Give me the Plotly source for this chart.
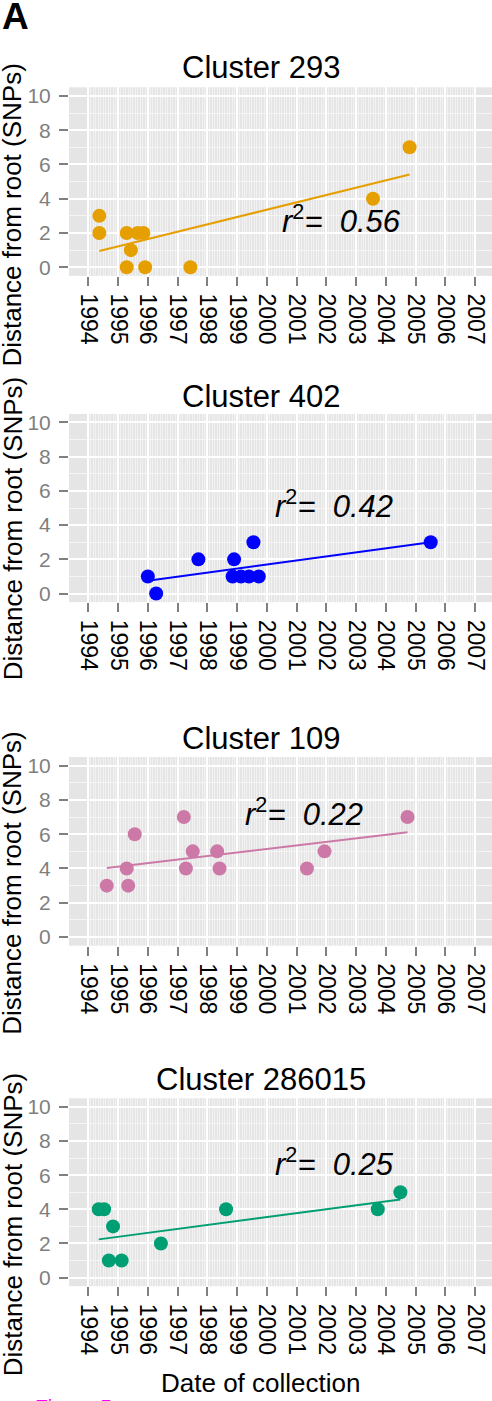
import numpy as np
import plotly.graph_objects as go

# ---------------- data ----------------
cluster_names = ["Cluster 293", "Cluster 402", "Cluster 109", "Cluster 286015"]
cluster_colors = ["#E69F00", "#0000FF", "#CC79A7", "#009E73"]
r2_values = ["0.56", "0.42", "0.22", "0.25"]

dates_293 = [1994.37, 1994.37, 1995.29, 1995.29, 1995.43, 1995.66, 1995.85, 1995.91, 1997.43, 2003.57, 2004.80]
snps_293 = [3, 2, 2, 0, 1, 2, 2, 0, 0, 4, 7]

dates_402 = [1996.00, 1996.28, 1997.70, 1998.90, 1998.85, 1999.13, 1999.40, 1999.73, 1999.55, 2005.51]
snps_402 = [1, 0, 2, 2, 1, 1, 1, 1, 3, 3]

dates_109 = [1994.62, 1995.29, 1995.34, 1995.56, 1997.21, 1997.28, 1997.51, 1998.33, 1998.41, 2001.35, 2001.94, 2004.73]
snps_109 = [3, 4, 3, 6, 7, 4, 5, 5, 4, 4, 5, 7]

dates_286015 = [1994.35, 1994.53, 1994.69, 1994.83, 1995.12, 1996.44, 1998.63, 2003.73, 2004.49]
snps_286015 = [4, 4, 1, 3, 1, 2, 4, 4, 5]

# fitted-line values at the first and last collection date of each cluster
fit_start = [0.95, 0.75, 4.03, 2.24]
fit_end = [5.41, 3.00, 6.11, 4.58]

year_ticks = list(range(1994, 2008))
year_labels = [str(y) for y in year_ticks]
snp_ticks = [0, 2, 4, 6, 8, 10]

all_dates = [dates_293, dates_402, dates_109, dates_286015]
all_snps = [snps_293, snps_402, snps_109, snps_286015]

# ---------------- layout geometry ----------------
W, H = 492, 1401
FONT = "Liberation Sans, Arial, Helvetica, sans-serif"


def fx(p):
    return p / W


def fy(p):
    return 1 - p / H


panel_top = [84.7, 412.7, 757.3, 1100.0]
panel_bottom = [274.0, 601.7, 946.7, 1288.7]
title_mid = [64.3, 395.0, 738.8, 1081.3]
ylab_mid = [213.0, 528.0, 884.0, 1227.0]
r2_pos = [(2002.52, 2.8), (2002.26, 5.25), (2001.26, 7.28), (2002.26, 6.75)]

x_range = [1993.35, 2007.57]
month_lines = [1994 + k / 12 for k in range(0, 13 * 12 + 1) if k % 12 != 0]

fig = go.Figure()
annotations = []

for i in range(4):
    xa = "x" if i == 0 else f"x{i + 1}"
    ya = "y" if i == 0 else f"y{i + 1}"
    d = all_dates[i]
    s = all_snps[i]
    col = cluster_colors[i]

    fig.add_trace(go.Scatter(
        x=d, y=s, mode="markers", xaxis=xa, yaxis=ya,
        marker=dict(size=14, color=col, line=dict(width=0)),
        showlegend=False, hoverinfo="skip"))
    fig.add_trace(go.Scatter(
        x=[min(d), max(d)], y=[fit_start[i], fit_end[i]], mode="lines",
        xaxis=xa, yaxis=ya, line=dict(color=col, width=2),
        showlegend=False, hoverinfo="skip"))

    xkey = "xaxis" if i == 0 else f"xaxis{i + 1}"
    ykey = "yaxis" if i == 0 else f"yaxis{i + 1}"
    fig.layout[xkey] = dict(
        domain=[fx(69), 1.0], range=x_range, anchor=ya,
        tickmode="array", tickvals=year_ticks, ticktext=year_labels,
        tickangle=90, ticks="outside", ticklen=9, tickwidth=1.5,
        tickcolor="#808080", ticklabelstandoff=3,
        tickfont=dict(family=FONT, size=23, color="black"),
        showgrid=True, gridcolor="white", gridwidth=1.8,
        zeroline=False, showline=False, fixedrange=True,
        minor=dict(tickmode="array", tickvals=month_lines, showgrid=True,
                   gridcolor="#f2f2f2", gridwidth=1, ticks=""),
    )
    fig.layout[ykey] = dict(
        domain=[fy(panel_bottom[i]), fy(panel_top[i])], range=[-0.5, 10.5],
        anchor=xa, tickmode="array", tickvals=snp_ticks,
        ticks="outside", ticklen=9, tickwidth=1.5, tickcolor="#808080",
        ticklabelstandoff=4,
        tickfont=dict(family=FONT, size=21, color="#7f7f7f"),
        showgrid=True, gridcolor="white", gridwidth=1.8,
        zeroline=False, showline=False, fixedrange=True,
        minor=dict(tickmode="array", tickvals=[1, 3, 5, 7, 9], showgrid=True,
                   gridcolor="#f5f5f5", gridwidth=1, ticks=""),
    )

    # panel title
    annotations.append(dict(
        text=cluster_names[i], x=fx(261), y=fy(title_mid[i]),
        xref="paper", yref="paper", xanchor="center", yanchor="middle",
        showarrow=False, font=dict(family=FONT, size=31, color="black")))
    # y axis title
    annotations.append(dict(
        text="Distance from root (SNPs)", x=fx(12.5), y=fy(ylab_mid[i]),
        xref="paper", yref="paper", xanchor="center", yanchor="middle",
        textangle=-90, showarrow=False,
        font=dict(family=FONT, size=26, color="black")))
    # r^2 label
    annotations.append(dict(
        text=f"<i>r</i><sup>2</sup><i>=\u00a0 {r2_values[i]}</i>",
        x=r2_pos[i][0], y=r2_pos[i][1], xref=xa, yref=ya,
        xanchor="center", yanchor="middle", showarrow=False,
        font=dict(family=FONT, size=31, color="black")))

# x axis title (bottom panel only)
annotations.append(dict(
    text="Date of collection", x=fx(260.5), y=fy(1385.8),
    xref="paper", yref="paper", xanchor="center", yanchor="middle",
    showarrow=False, font=dict(family=FONT, size=26, color="black")))
# panel letter
annotations.append(dict(
    text="<b>A</b>", x=fx(0), y=fy(13.5), xref="paper", yref="paper",
    xanchor="left", yanchor="middle", showarrow=False,
    font=dict(family=FONT, size=37, color="black")))
# cut-off caption at the very bottom
annotations.append(dict(
    text="Figure 5", x=fx(33), y=fy(1410), xref="paper", yref="paper",
    xanchor="left", yanchor="middle", showarrow=False,
    font=dict(family=FONT, size=21, color="#ff00ff")))

fig.update_layout(
    width=W, height=H, autosize=False,
    margin=dict(l=0, r=0, t=0, b=0, pad=0),
    paper_bgcolor="white", plot_bgcolor="#e5e5e5",
    showlegend=False, annotations=annotations,
    font=dict(family=FONT),
)

fig.write_html("out.html", include_plotlyjs=True, config={"displayModeBar": False})
